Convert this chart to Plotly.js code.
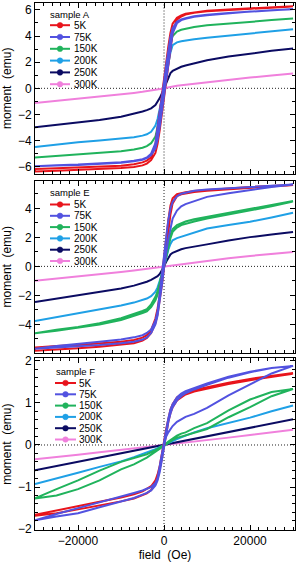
<!DOCTYPE html>
<html>
<head>
<meta charset="utf-8">
<script src="https://cdn.plot.ly/plotly-3.0.1.min.js"></script>
<style>html,body{margin:0;padding:0;background:#fff;}#chart{width:297px;height:566px;}</style>
</head>
<body>
<div id="chart"></div>
<script>
// ---------------- data ----------------
var temps = ["5K", "75K", "150K", "200K", "250K", "300K"];
var samples = ["sample A", "sample E", "sample F"];
var colors = ["#e8141c", "#5252e0", "#20b35c", "#1fa0e6", "#0b0b62", "#f080dc"];

// field grid (Oe), ascending
var field = [-30000,-25000,-20000,-15000,-10000,-7000,-5000,-4000,-3000,-2000,-1500,-1000,-500,0,500,1000,1500,2000,3000,4000,5000,7000,10000,15000,20000,25000,30000];
var fieldPos = [0,500,1000,1500,2000,3000,4000,5000,7000,10000,15000,20000,25000,30000];

// sample A (moment, emu) : descending branch (down) / ascending branch (up)
var A_5K_down  = [-6.18,-6.12,-6.06,-6.00,-5.92,-5.82,-5.67,-5.53,-5.28,-4.30,-3.20,-1.95,-0.65,0.65,1.95,3.20,4.25,4.95,5.40,5.58,5.70,5.83,5.94,6.04,6.13,6.21,6.28];
var A_5K_up    = [-6.36,-6.30,-6.24,-6.17,-6.10,-6.02,-5.90,-5.76,-5.50,-4.95,-4.25,-3.20,-1.95,-0.65,0.65,1.95,3.20,4.25,5.25,5.50,5.64,5.78,5.90,6.00,6.10,6.18,6.26];
var A_75K_down = [-5.95,-5.88,-5.84,-5.76,-5.66,-5.55,-5.42,-5.30,-5.00,-4.20,-3.20,-2.00,-0.75,0.50,1.75,2.95,3.95,4.60,5.10,5.27,5.37,5.51,5.63,5.77,5.88,5.98,6.07];
var A_75K_up   = [-5.97,-5.91,-5.87,-5.79,-5.69,-5.58,-5.47,-5.35,-5.10,-4.60,-3.95,-2.95,-1.75,-0.50,0.75,2.00,3.20,4.20,4.98,5.22,5.33,5.48,5.60,5.75,5.87,5.97,6.06];
var A_150K = [-5.30,-5.18,-5.08,-4.97,-4.82,-4.68,-4.55,-4.42,-4.20,-3.70,-3.05,-2.20,-1.15,0,1.20,2.40,3.40,4.00,4.35,4.48,4.57,4.70,4.82,4.97,5.10,5.22,5.35];
var A_200K = [-4.50,-4.30,-4.13,-4.00,-3.86,-3.74,-3.62,-3.52,-3.33,-2.85,-2.35,-1.65,-0.85,0,0.95,1.90,2.75,3.30,3.52,3.60,3.66,3.76,3.87,4.02,4.20,4.36,4.52];
var A_250K = [-2.98,-2.80,-2.64,-2.43,-2.17,-1.95,-1.78,-1.67,-1.53,-1.28,-1.05,-0.75,-0.40,0,0.45,0.88,1.17,1.33,1.52,1.65,1.75,1.93,2.15,2.43,2.67,2.87,3.05];
var A_300K = [-1.13,-0.97,-0.80,-0.63,-0.46,-0.35,-0.27,-0.23,-0.19,-0.14,-0.11,-0.08,-0.04,0,0.04,0.08,0.11,0.14,0.19,0.23,0.27,0.35,0.46,0.63,0.82,0.98,1.13];

// sample E
var E_5K_down  = [-5.60,-5.50,-5.42,-5.32,-5.20,-5.08,-4.92,-4.75,-4.40,-3.60,-2.90,-2.00,-0.80,0.55,1.90,3.20,4.20,4.70,4.98,5.06,5.12,5.20,5.28,5.38,5.48,5.56,5.62];
var E_5K_up    = [-5.82,-5.75,-5.66,-5.55,-5.42,-5.30,-5.12,-4.95,-4.60,-3.90,-3.30,-2.40,-1.30,-0.10,1.20,2.50,3.60,4.35,4.85,4.98,5.05,5.14,5.22,5.33,5.44,5.53,5.60];
var E_75K_down = [-5.68,-5.50,-5.33,-5.20,-5.05,-4.90,-4.75,-4.60,-4.35,-3.75,-3.10,-2.10,-0.80,0.70,2.00,3.20,4.00,4.45,4.85,5.02,5.12,5.22,5.30,5.38,5.47,5.58,5.66];
var E_75K_up   = [-5.68,-5.60,-5.50,-5.42,-5.30,-5.20,-5.05,-4.90,-4.60,-4.00,-3.40,-2.50,-1.30,-0.10,1.00,1.90,2.60,3.30,3.85,4.15,4.30,4.50,4.80,5.05,5.28,5.48,5.66];
var E_150K_down = [-4.58,-4.38,-4.18,-3.92,-3.58,-3.30,-3.08,-2.95,-2.62,-2.10,-1.70,-1.15,-0.55,0.10,0.85,1.60,2.20,2.58,2.85,3.00,3.10,3.25,3.45,3.72,3.98,4.25,4.52];
var E_150K_up   = [-4.62,-4.45,-4.26,-4.02,-3.70,-3.44,-3.22,-3.10,-2.82,-2.35,-1.95,-1.40,-0.75,-0.10,0.60,1.35,1.95,2.38,2.68,2.85,2.95,3.10,3.30,3.58,3.85,4.15,4.48];
var E_200K = [-3.77,-3.50,-3.26,-3.00,-2.70,-2.50,-2.33,-2.22,-2.05,-1.75,-1.45,-1.05,-0.55,0,0.60,1.15,1.55,1.80,1.95,2.05,2.15,2.35,2.62,2.86,3.08,3.38,3.70];
var E_250K = [-2.46,-2.22,-2.00,-1.77,-1.52,-1.33,-1.18,-1.06,-0.93,-0.78,-0.68,-0.52,-0.30,0,0.32,0.62,0.82,0.94,1.08,1.18,1.26,1.38,1.52,1.78,2.02,2.20,2.38];
var E_300K = [-1.00,-0.86,-0.72,-0.56,-0.39,-0.29,-0.21,-0.17,-0.13,-0.09,-0.07,-0.05,-0.025,0,0.025,0.05,0.07,0.09,0.13,0.17,0.21,0.29,0.39,0.56,0.72,0.86,0.99];

// sample F
var F_5K_down  = [-1.66,-1.56,-1.45,-1.35,-1.25,-1.17,-1.10,-1.05,-0.98,-0.84,-0.70,-0.50,-0.22,0.08,0.38,0.64,0.84,0.97,1.13,1.20,1.25,1.31,1.38,1.48,1.57,1.64,1.71];
var F_5K_up    = [-1.68,-1.62,-1.53,-1.44,-1.34,-1.27,-1.20,-1.15,-1.07,-0.92,-0.80,-0.60,-0.33,-0.03,0.27,0.55,0.76,0.90,1.06,1.14,1.20,1.27,1.34,1.45,1.54,1.62,1.69];
var F_75K_virgin = [0,0.20,0.30,0.38,0.45,0.55,0.62,0.67,0.74,0.88,1.18,1.44,1.70,1.88];
var F_75K_down = [-1.79,-1.64,-1.50,-1.36,-1.22,-1.14,-1.08,-1.04,-1.00,-0.90,-0.78,-0.58,-0.30,0.02,0.35,0.63,0.84,0.97,1.13,1.22,1.28,1.36,1.46,1.62,1.74,1.83,1.88];
var F_75K_up   = [-1.79,-1.70,-1.62,-1.48,-1.34,-1.26,-1.18,-1.14,-1.08,-0.96,-0.84,-0.64,-0.36,-0.05,0.26,0.55,0.75,0.90,1.06,1.16,1.23,1.32,1.43,1.60,1.73,1.83,1.88];
var F_150K_down = [-1.27,-1.05,-0.84,-0.61,-0.40,-0.31,-0.25,-0.22,-0.18,-0.12,-0.09,-0.06,-0.03,0,0.04,0.08,0.12,0.16,0.22,0.27,0.30,0.40,0.52,0.82,1.08,1.26,1.33];
var F_150K_up   = [-1.27,-1.20,-1.05,-0.84,-0.58,-0.46,-0.36,-0.30,-0.23,-0.16,-0.12,-0.08,-0.04,0,0.03,0.06,0.09,0.12,0.17,0.20,0.22,0.29,0.38,0.66,0.90,1.16,1.33];
var F_200K = [-0.93,-0.80,-0.66,-0.52,-0.39,-0.29,-0.22,-0.18,-0.14,-0.10,-0.075,-0.05,-0.025,0,0.025,0.05,0.075,0.10,0.14,0.18,0.22,0.30,0.40,0.53,0.65,0.80,0.94];
var F_250K = [-0.60,-0.50,-0.40,-0.30,-0.20,-0.14,-0.10,-0.08,-0.06,-0.04,-0.03,-0.02,-0.01,0,0.01,0.02,0.03,0.04,0.06,0.08,0.10,0.14,0.20,0.31,0.41,0.51,0.61];
var F_300K = [-0.34,-0.29,-0.23,-0.17,-0.115,-0.08,-0.057,-0.046,-0.034,-0.023,-0.017,-0.011,-0.006,0,0.006,0.011,0.017,0.023,0.034,0.046,0.057,0.08,0.115,0.175,0.24,0.30,0.36];

// ---------------- build ----------------
function rev(a){ return a.slice().reverse(); }
function loop(down, up){ return {x: rev(field).concat(field), y: rev(down).concat(up)}; }
function single(m){ return {x: field, y: m}; }

var panels = [
  [loop(A_5K_down, A_5K_up), loop(A_75K_down, A_75K_up), single(A_150K), single(A_200K), single(A_250K), single(A_300K)],
  [loop(E_5K_down, E_5K_up), loop(E_75K_down, E_75K_up), loop(E_150K_down, E_150K_up), single(E_200K), single(E_250K), single(E_300K)],
  [loop(F_5K_down, F_5K_up),
   {x: fieldPos.concat(rev(field), field), y: F_75K_virgin.concat(rev(F_75K_down), F_75K_up)},
   loop(F_150K_down, F_150K_up), single(F_200K), single(F_250K), single(F_300K)]
];

var axNames = [["x","y"],["x2","y2"],["x3","y3"]];
var drawOrder = [5,4,3,2,0,1];
var traces = [];
panels.forEach(function(curves, p){
  drawOrder.forEach(function(i){
    traces.push({
      type: "scatter", mode: "lines",
      x: curves[i].x, y: curves[i].y,
      xaxis: axNames[p][0], yaxis: axNames[p][1],
      line: {color: colors[i], width: 2},
      name: temps[i], showlegend: false, hoverinfo: "skip"
    });
  });
});

// ---------------- layout ----------------
var W = 297, H = 566, ML = 35, MR = 2, MT = 3, MB = 36;
var PW = W - ML - MR, PH = H - MT - MB;
function px(v){ return (v - ML) / PW; }
function py(v){ return (H - MB - v) / PH; }

var font = "Liberation Sans, Arial, Helvetica, sans-serif";
var domains = [[py(173.5), 1], [py(353), py(180.5)], [0, py(358.3)]];
var yranges = [[-6.52, 6.53], [-5.98, 5.93], [-2.02, 2.06]];
var ydticks = [2, 2, 1];
var yminor = [1, 1, 0.2];

var layout = {
  width: W, height: H,
  margin: {l: ML, r: MR, t: MT, b: MB, pad: 0},
  paper_bgcolor: "#ffffff", plot_bgcolor: "#ffffff",
  showlegend: false,
  font: {family: font, size: 12, color: "#000"},
  shapes: [], annotations: []
};

for (var p = 0; p < 3; p++) {
  var xk = p === 0 ? "xaxis" : "xaxis" + (p + 1);
  var yk = p === 0 ? "yaxis" : "yaxis" + (p + 1);
  layout[xk] = {
    anchor: axNames[p][1], domain: [0, 1],
    range: [-30000, 30450], dtick: 20000, tick0: 0,
    showticklabels: p === 2, tickformat: "d",
    ticks: "inside", ticklen: 5, tickwidth: 1, tickcolor: "#000",
    minor: {dtick: 2000, ticks: "inside", ticklen: 3, tickwidth: 1, tickcolor: "#000", showgrid: false},
    showline: true, linecolor: "#000", linewidth: 1, mirror: "ticks",
    showgrid: false, zeroline: false,
    tickfont: {size: 12, family: font},
    title: p === 2 ? {text: "field\u00a0 (Oe)", font: {size: 12, family: font}, standoff: 2} : {text: ""}
  };
  if (p > 0) layout[xk].matches = "x";
  layout[yk] = {
    anchor: axNames[p][0], domain: domains[p],
    range: yranges[p], dtick: ydticks[p], tick0: 0,
    ticks: "inside", ticklen: 5, tickwidth: 1, tickcolor: "#000",
    minor: {dtick: yminor[p], ticks: "inside", ticklen: 3, tickwidth: 1, tickcolor: "#000", showgrid: false},
    showline: true, linecolor: "#000", linewidth: 1, mirror: "ticks",
    showgrid: false, zeroline: false,
    tickfont: {size: 12, family: font},
    title: {text: "moment\u00a0 (emu)", font: {size: 12, family: font}, standoff: 3}
  };
  // dotted zero lines
  layout.shapes.push({type: "line", layer: "below", xref: axNames[p][0], yref: axNames[p][1] + " domain",
    x0: 0, x1: 0, y0: 0, y1: 1, line: {color: "#222", width: 1, dash: "1px,2px"}});
  layout.shapes.push({type: "line", layer: "below", xref: axNames[p][0] + " domain", yref: axNames[p][1],
    x0: 0, x1: 1, y0: 0, y1: 0, line: {color: "#222", width: 1, dash: "1px,2px"}});
}

// legends (drawn as layout items, one per panel)
var legendPos = [
  {title: [49, 14], first: 25.2, step: 11.8, line: [50, 70], text: 73},
  {title: [49, 192.5], first: 204.5, step: 11.3, line: [50, 70], text: 73},
  {title: [55, 371], first: 383, step: 11.3, line: [55, 76], text: 78}
];
legendPos.forEach(function(L, p){
  layout.annotations.push({xref: "paper", yref: "paper", x: px(L.title[0]), y: py(L.title[1]),
    xanchor: "left", yanchor: "middle", showarrow: false, text: samples[p],
    font: {size: 9.5, family: font, color: "#000"}, borderpad: 0});
  temps.forEach(function(t, i){
    var yy = L.first + L.step * i;
    var cx = (L.line[0] + L.line[1]) / 2, r = 2.8;
    layout.shapes.push({type: "line", xref: "paper", yref: "paper",
      x0: px(L.line[0]), x1: px(L.line[1]), y0: py(yy), y1: py(yy), line: {color: colors[i], width: 2}});
    layout.shapes.push({type: "circle", xref: "paper", yref: "paper",
      x0: px(cx - r), x1: px(cx + r), y0: py(yy + r), y1: py(yy - r),
      fillcolor: colors[i], line: {color: colors[i], width: 0.5}});
    layout.annotations.push({xref: "paper", yref: "paper", x: px(L.text), y: py(yy),
      xanchor: "left", yanchor: "middle", showarrow: false, text: t,
      font: {size: 10, family: font, color: "#000"}, borderpad: 0});
  });
});

Plotly.newPlot("chart", traces, layout, {staticPlot: true, displayModeBar: false});
</script>
</body>
</html>
